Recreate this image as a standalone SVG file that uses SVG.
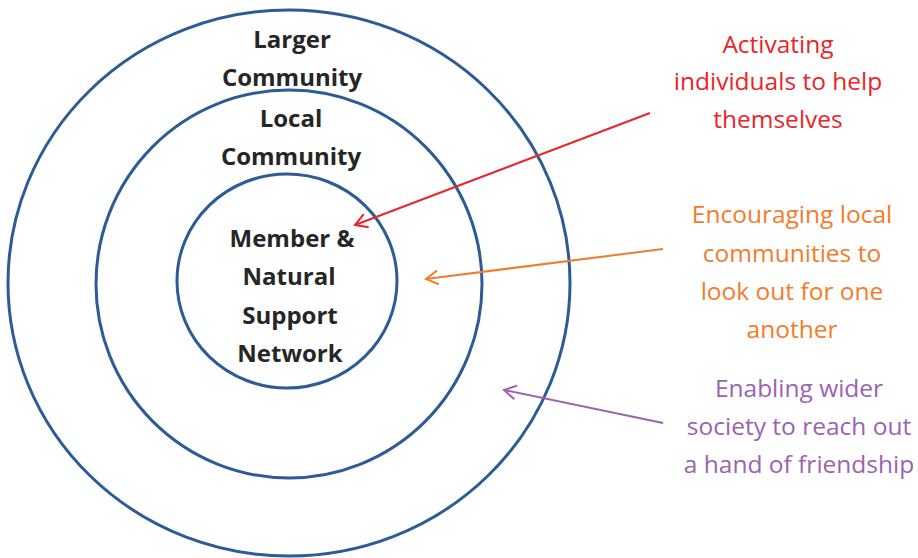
<svg xmlns="http://www.w3.org/2000/svg" width="918" height="558" viewBox="0 0 918 558">
<defs>
<style>
.ring{fill:none;stroke:#2c5b95;stroke-width:3}
.lbl{font-family:"Open Sans","Liberation Sans",sans-serif;font-weight:700;font-size:24px;fill:#262626;text-anchor:middle}
.side{font-family:"Open Sans","Liberation Sans",sans-serif;font-size:24.5px;text-anchor:middle}
.red{fill:#ec2329}
.orange{fill:#f47b2a}
.purple{fill:#9b63b0}
.arrow{fill:none;stroke-width:2}
</style>
<marker id="mRed" viewBox="-14 -8 16 16" markerWidth="16" markerHeight="16" refX="0" refY="0" orient="auto" markerUnits="userSpaceOnUse"><path d="M-12,-7 L0,0 L-12,7" fill="none" stroke="#ec2329" stroke-width="2"/></marker>
<marker id="mOrange" viewBox="-14 -8 16 16" markerWidth="16" markerHeight="16" refX="0" refY="0" orient="auto" markerUnits="userSpaceOnUse"><path d="M-12,-7 L0,0 L-12,7" fill="none" stroke="#f47b2a" stroke-width="2"/></marker>
<marker id="mPurple" viewBox="-14 -8 16 16" markerWidth="16" markerHeight="16" refX="0" refY="0" orient="auto" markerUnits="userSpaceOnUse"><path d="M-12,-7 L0,0 L-12,7" fill="none" stroke="#9b63b0" stroke-width="2"/></marker>
</defs>
<rect width="918" height="558" fill="#ffffff"/>
<g id="larger-community">
<ellipse class="ring" cx="289" cy="283" rx="281" ry="273"/>
<text class="lbl" x="292" y="48">Larger</text>
<text class="lbl" x="292" y="86">Community</text>
</g>
<g id="local-community">
<ellipse class="ring" cx="289" cy="284" rx="193" ry="194"/>
<text class="lbl" x="291" y="127">Local</text>
<text class="lbl" x="291" y="165">Community</text>
</g>
<g id="member-network">
<ellipse class="ring" cx="287" cy="281" rx="110" ry="107"/>
<text class="lbl" x="292" y="247">Member &amp;</text>
<text class="lbl" x="289" y="285">Natural</text>
<text class="lbl" x="290" y="324">Support</text>
<text class="lbl" x="290" y="362">Network</text>
</g>
<g id="label-individuals">
<text class="side red" x="778" y="53">Activating</text>
<text class="side red" x="778" y="90">individuals to help</text>
<text class="side red" x="778" y="128">themselves</text>
</g>
<g id="label-local">
<text class="side orange" x="792" y="223">Encouraging local</text>
<text class="side orange" x="792" y="262">communities to</text>
<text class="side orange" x="792" y="300">look out for one</text>
<text class="side orange" x="792" y="338">another</text>
</g>
<g id="label-society">
<text class="side purple" x="799" y="397">Enabling wider</text>
<text class="side purple" x="799" y="435">society to reach out</text>
<text class="side purple" x="799" y="473">a hand of friendship</text>
</g>
<g id="connectors">
<line class="arrow" x1="650" y1="113" x2="355" y2="225" stroke="#ec2329" marker-end="url(#mRed)"/>
<line class="arrow" x1="663" y1="249" x2="426" y2="279" stroke="#f47b2a" marker-end="url(#mOrange)"/>
<line class="arrow" x1="663" y1="423" x2="504" y2="390" stroke="#9b63b0" marker-end="url(#mPurple)"/>
</g>
</svg>
